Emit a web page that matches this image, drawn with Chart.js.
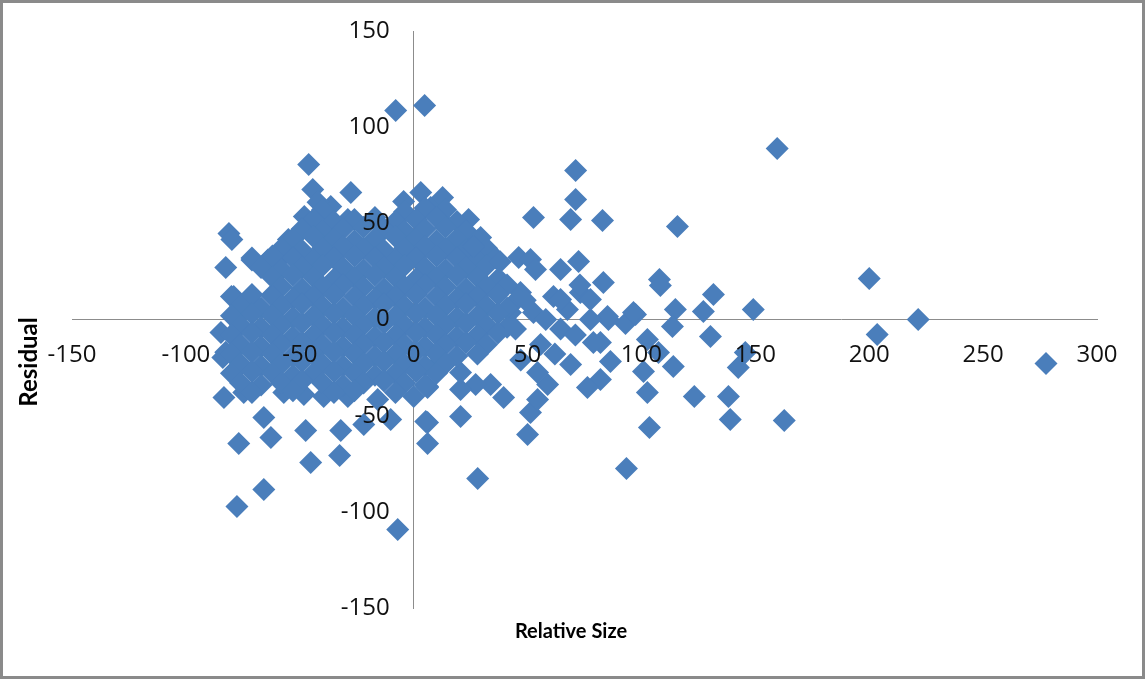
<!DOCTYPE html>
<html>
<head>
<meta charset="utf-8">
<title>Residual vs Relative Size</title>
<script src="https://cdn.jsdelivr.net/npm/chart.js@4.4.1/dist/chart.umd.min.js"></script>
<style>
    html, body { margin: 0; padding: 0; background: #fff; }
    #frame {
        width: 1145px;
        height: 679px;
        box-sizing: border-box;
        border: 3px solid #8a8a8a;
    }
    canvas { display: block; }
</style>
</head>
<body>
<div id="frame"><canvas id="residualChart" width="1139" height="673"></canvas></div>
<script>
/* --- Data --- */
const xTicks = [-150, -100, -50, 0, 50, 100, 150, 200, 250, 300];
const yTicks = [-150, -100, -50, 0, 50, 100, 150];
const xTitle = 'Relative Size';
const yTitle = 'Residual';

// outliers and the looser points round the cloud
const relativeSizeA = [-7.9, 4.8, 159.6, -46.1, 71.1, 71.1, 68.9, 82.9, 52.6, 115.8,
    12.7, 3.1, -27.6, -4.4, 24.1, 29.4, 14, 7.5, -28.9, -36.4,
    -81.1, -79.8, 200, 107.9, 108.3, 131.6, 149.1, 127.2, 114.9, 113.6,
    221.5, 203.5, 277.6, 85.5, 93, 97.4, 83.3, 82, 130.3, 102.6,
    107.5, 86.4, 82, 100.9, 114, 145.6, 142.5, 102.6, 123.2, 138.2,
    139, 162.7, 103.5, 93.4, 28.1, 50, 20.6, 6.1, 6.1, 51.3,
    54.4, 39.5, 33.8, 27.2, 20.6, 20.6, 6.1, 8.8, 76.3, 58.8,
    54.4, 68.9, 78.9, 85.1, 96.5, 67.5, 73.2, 61.4, 46.9, 42.5,
    52.6, 39, 46.1, 51.3, 53.5, 64.5, 72.4];
const residualA = [108.7, 111.3, 88.9, 80.6, 77.5, 62.4, 52, 51.5, 53, 48.4,
    63.4, 66, 66, 61.4, 52, 42.6, 49.4, 58.2, 52, 58.8,
    44.7, 41.6, 21.3, 20.8, 17.7, 13, 5.2, 4.2, 5.2, -3.6,
    0, -7.8, -22.9, 0, -2.1, 2.6, 19.2, -12, -8.8, -10.4,
    -17.2, -21.8, -31.2, -27, -24.4, -17.2, -25, -38, -40, -40,
    -52, -52.5, -56.2, -77.5, -82.7, -59.8, -50.4, -64.5, -53.6, -48.4,
    -41.6, -40.6, -33.8, -33.8, -36.4, -27.6, -35.4, -25, -35.4, -33.8,
    -27.6, -23.4, -12, 1.6, 3.6, 5.2, 14, 12, 14, 3.6,
    3.6, 19.2, 32.2, 31.2, 26, 26, 30.2];

// lower left tail and left edge of the cloud
const relativeSizeB = [-83.3, -76.8, -77.6, -65.8, -62.7, -65.8, -74.6, -47.4, -45.2, -32,
    -32.5, -21.9, -10.1, -7, 5.3, 0, 6.1, -15.8, -28.9, -39.5,
    -48.2, -57, -79.4, -84.6, -83.8, -82.5,
    -79, -72, -71, -64, -60, -61, -55, -52, -48, -44.3,
    -42, -39, -62, -59, -77, -82.5];
const residualB = [-40.6, -64.5, -97.2, -88.4, -61.4, -51, -38, -57.7, -74.4, -57.7,
    -70.7, -54.6, -52, -109.2, -53, -40, -34.8, -41.6, -40, -40,
    -39, -38, -27.6, -6.8, -19.8, 27,
    12, 10.4, 31, 31, 30, 23, 41.6, 43, 53.6, 67.6,
    61, 55.6, 13, 6, 1.6, -17];

// dense core of the cloud, row by row from the top
const relativeSizeC = [-40, -4, 5, 14,
    -44, -35, -26, -17, -8, 1, 10, 19,
    -49, -40, -31, -22, -13, -4, 5, 14, 23,
    -53, -44, -35, -26, -17, -8, 1, 10, 19, 28,
    -58, -49, -40, -31, -22, -13, -4, 5, 14, 23, 32,
    -71, -62, -53, -44, -35, -26, -17, -8, 1, 10, 19, 28, 36,
    -67, -58, -49, -40, -31, -22, -13, -4, 5, 14, 23, 32,
    -62, -53, -44, -35, -26, -17, -8, 1, 10, 19, 28, 37,
    -58, -49, -40, -31, -22, -13, -4, 5, 14, 23, 32, 41,
    -80, -71, -62, -53, -44, -35, -26, -17, -8, 1, 10, 19, 28, 37, 46,
    -76, -67, -58, -49, -40, -31, -22, -13, -4, 5, 14, 23, 32, 41,
    -80, -71, -62, -53, -44, -35, -26, -17, -8, 1, 10, 19, 28, 37,
    -76, -67, -58, -49, -40, -31, -22, -13, -4, 5, 14, 23, 32, 41,
    -80, -71, -62, -53, -44, -35, -26, -17, -8, 1, 10, 19, 28, 37,
    -76, -67, -58, -49, -40, -31, -22, -13, -4, 5, 14, 23, 32,
    -80, -71, -62, -53, -44, -35, -26, -17, -8, 1, 10, 19, 28,
    -76, -67, -58, -49, -40, -31, -22, -13, -4, 5, 14,
    -80, -71, -62, -53, -44, -35, -26, -17, -8, 1, 10,
    -76, -67, -58, -49, -40, -31, -22, -13, -4, 5,
    -71, -53, -35, -26, -8];
const residualC = [57, 56, 58, 57,
    52, 51, 52, 53, 51, 52, 53, 51,
    47, 46, 47, 48, 47, 46, 47, 48, 46,
    42, 43, 42, 41, 42, 43, 42, 41, 42, 41,
    37, 36, 37, 38, 37, 36, 37, 38, 37, 36, 37,
    32, 33, 32, 31, 32, 33, 32, 31, 32, 33, 32, 31, 32,
    27, 26, 27, 28, 27, 26, 27, 28, 27, 26, 27, 28,
    22, 23, 22, 21, 22, 23, 22, 21, 22, 23, 22, 21,
    17, 16, 17, 18, 17, 16, 17, 18, 17, 16, 17, 18,
    12, 13, 12, 11, 12, 13, 12, 11, 12, 13, 12, 11, 12, 13, 11,
    7, 6, 7, 8, 7, 6, 7, 8, 7, 6, 7, 8, 7, 6,
    2, 3, 2, 1, 2, 3, 2, 1, 2, 3, 2, 1, 2, 3,
    -3, -4, -3, -2, -3, -4, -3, -2, -3, -4, -3, -2, -3, -4,
    -8, -7, -8, -9, -8, -7, -8, -9, -8, -7, -8, -9, -8, -7,
    -13, -14, -13, -12, -13, -14, -13, -12, -13, -14, -13, -12, -13,
    -18, -17, -18, -19, -18, -17, -18, -19, -18, -17, -18, -19, -18,
    -23, -24, -23, -22, -23, -24, -23, -22, -23, -24, -23,
    -28, -27, -28, -29, -28, -27, -28, -29, -28, -27, -28,
    -33, -34, -33, -32, -33, -34, -33, -32, -33, -34,
    -38, -37, -38, -37, -38];

// points joining the cloud to the right hand group
const relativeSizeD = [49, 58, 64.5, 55.7, 44.7, 71, 77.6, 64.5, 62, 47, 73, 77.6, 26.3, 38];
const residualD = [10, 0, -5, -13, -5, -8, 0, 10.4, -18, -21, 18, 10.4, 38, 30];

const relativeSize = [...relativeSizeA, ...relativeSizeB, ...relativeSizeC, ...relativeSizeD];
const residual = [...residualA, ...residualB, ...residualC, ...residualD];

/* --- Axis titles plugin (drawn in the frame margins) --- */
const axisTitles = {
    id: 'axisTitles',
    afterDraw(chart) {
        const ctx = chart.ctx;
        ctx.save();
        ctx.fillStyle = '#000';
        ctx.textAlign = 'center';
        ctx.textBaseline = 'middle';
        ctx.font = 'bold 20px Lato';
        ctx.fillText(xTitle, 568, 629);
        ctx.translate(26, 359);
        ctx.rotate(-Math.PI / 2);
        ctx.font = 'bold 24px Lato';
        ctx.fillText(yTitle, 0, 0);
        ctx.restore();
    }
};

const tickFont = { family: 'Open Sans', size: 24 };

new Chart(document.getElementById('residualChart'), {
    type: 'scatter',
    data: {
        datasets: [{
            label: yTitle,
            data: relativeSize.map((x, i) => ({ x: x, y: residual[i] })),
            pointStyle: 'rectRot',
            pointRadius: 11.5,
            pointHoverRadius: 11.5,
            backgroundColor: '#4a7ebb',
            borderWidth: 0
        }]
    },
    options: {
        responsive: false,
        animation: false,
        events: [],
        layout: { padding: { left: 69, right: 45, top: 28, bottom: 68 } },
        plugins: {
            legend: { display: false },
            tooltip: { enabled: false }
        },
        scales: {
            x: {
                type: 'linear',
                min: -150,
                max: 300,
                position: { y: 0 },
                afterBuildTicks: (axis) => { axis.ticks = xTicks.map(v => ({ value: v })); },
                grid: { display: false, drawTicks: false },
                border: { color: '#8c8c8c', width: 1 },
                ticks: { z: 1, padding: 21, color: '#111', font: tickFont, maxRotation: 0, autoSkip: false }
            },
            y: {
                type: 'linear',
                min: -150,
                max: 150,
                position: { x: 0 },
                afterBuildTicks: (axis) => { axis.ticks = yTicks.map(v => ({ value: v })); },
                grid: { display: false, drawTicks: false },
                border: { color: '#8c8c8c', width: 1 },
                // an em space keeps the labels clear of the axis line
                ticks: { z: 1, padding: 0, color: '#111', font: tickFont, autoSkip: false,
                         callback: (v) => v + '\u2003' }
            }
        }
    },
    plugins: [axisTitles]
});
</script>
</body>
</html>
